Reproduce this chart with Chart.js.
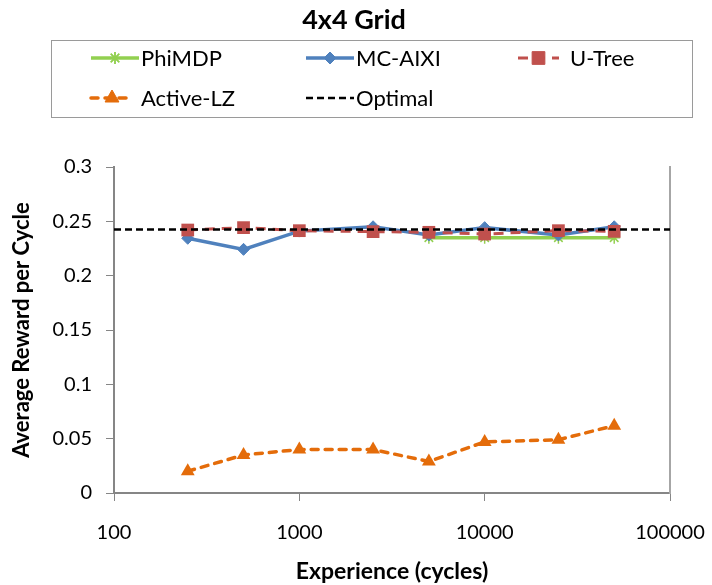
<!DOCTYPE html>
<html>
<head>
<meta charset="utf-8">
<script src="https://cdn.jsdelivr.net/npm/chart.js@4/dist/chart.umd.min.js"></script>
<style>
  html, body { margin: 0; padding: 0; background: #fff; }
  #wrap { width: 712px; height: 585px; position: relative; }
</style>
</head>
<body>
<div id="wrap"><canvas id="c" width="712" height="585"></canvas></div>
<script>
const chartTitle = '4x4 Grid';
const xTitle = 'Experience (cycles)';
const yTitle = 'Average Reward per Cycle';
const xTickValues = [100, 1000, 10000, 100000];

const experience = [250, 500, 1000, 2500, 5000, 10000, 25000, 50000];
const phiMdpExperience = [5000, 10000, 25000, 50000];
const phiMdp = [0.235, 0.235, 0.235, 0.235];
const mcAixi = [0.2344, 0.2242, 0.241, 0.245, 0.2374, 0.2442, 0.2374, 0.245];
const uTree = [0.242, 0.2442, 0.2414, 0.2405, 0.2399, 0.2383, 0.2414, 0.2408];
const activeLz = [0.020, 0.035, 0.040, 0.040, 0.029, 0.047, 0.049, 0.062];
const optimalExperience = [100, 100000];
const optimal = [0.2425, 0.2425];

const FONT = 'Lato, "Open Sans", sans-serif';
const GREEN = '#92D050', BLUE = '#4F81BD', RED = '#C0504D', ORANGE = '#E46C0A', AXIS = '#868686';

const pts = (xs, ys) => xs.map((x, i) => ({x: x, y: ys[i]}));

const datasets = [
  { label: 'PhiMDP', data: pts(phiMdpExperience, phiMdp), borderColor: GREEN, backgroundColor: GREEN,
    borderWidth: 3.5, pointStyle: 'star', pointRadius: 6, pointBorderWidth: 1.5, order: 4 },
  { label: 'MC-AIXI', data: pts(experience, mcAixi), borderColor: BLUE, backgroundColor: BLUE,
    borderWidth: 3.5, pointStyle: 'rectRot', pointRadius: 6, pointBorderWidth: 1, order: 3 },
  { label: 'U-Tree', data: pts(experience, uTree), borderColor: RED, backgroundColor: RED,
    borderWidth: 3, borderDash: [10, 7], pointStyle: 'rect', pointRadius: 9, pointBorderWidth: 0, order: 2 },
  { label: 'Active-LZ', data: pts(experience, activeLz), borderColor: ORANGE, backgroundColor: ORANGE,
    borderWidth: 3.5, borderDash: [7, 7], borderCapStyle: 'round', pointStyle: 'triangle', pointRadius: 8, pointBorderWidth: 0, order: 1 },
  { label: 'Optimal', data: pts(optimalExperience, optimal), borderColor: '#000', backgroundColor: '#000',
    borderWidth: 2.5, borderDash: [7, 4], pointRadius: 0, order: 0 }
];

const legendLayout = [
  { x: 91, y: 58, w: 48, tx: 141 },
  { x: 306, y: 58, w: 48, tx: 356 },
  { x: 518, y: 58, w: 41, tx: 570 },
  { x: 91, y: 98, w: 42, tx: 141 },
  { x: 306, y: 98, w: 48, tx: 356 }
];

const titleLegendPlugin = {
  id: 'titleLegend',
  afterDraw(chart) {
    const ctx = chart.ctx;
    ctx.save();
    ctx.fillStyle = '#000';
    ctx.font = 'bold 27px ' + FONT;
    ctx.textAlign = 'center';
    ctx.textBaseline = 'middle';
    ctx.fillText(chartTitle, 354, 20);
    // legend box
    ctx.strokeStyle = '#9a9a9a';
    ctx.lineWidth = 1;
    ctx.strokeRect(51.5, 40.5, 641, 77);
    ctx.font = '22px ' + FONT;
    ctx.textAlign = 'left';
    chart.data.datasets.forEach((ds, i) => {
      const L = legendLayout[i];
      ctx.save();
      ctx.strokeStyle = ds.borderColor;
      ctx.lineWidth = ds.borderWidth;
      ctx.setLineDash(ds.borderDash || []);
      ctx.lineCap = ds.borderCapStyle || 'butt';
      ctx.beginPath();
      ctx.moveTo(L.x, L.y);
      ctx.lineTo(L.x + L.w, L.y);
      ctx.stroke();
      ctx.restore();
      if (ds.pointRadius > 0) {
        ctx.save();
        ctx.fillStyle = ds.backgroundColor;
        ctx.strokeStyle = ds.borderColor;
        ctx.lineWidth = ds.pointBorderWidth || 1;
        Chart.helpers.drawPoint(ctx, {pointStyle: ds.pointStyle, radius: ds.pointRadius, borderWidth: ds.pointBorderWidth || 1, rotation: 0},
          L.x + L.w / 2, L.y);
        if (ds.pointBorderWidth > 0) ctx.stroke();
        ctx.restore();
      }
      ctx.fillStyle = '#000';
      ctx.fillText(ds.label, L.tx, L.y + 1);
    });
    ctx.restore();
  }
};

new Chart(document.getElementById('c'), {
  type: 'scatter',
  data: { datasets: datasets.map(d => Object.assign({showLine: true, fill: false, tension: 0}, d)) },
  plugins: [titleLegendPlugin],
  options: {
    responsive: false,
    animation: false,
    layout: { padding: { top: 167, right: 42, bottom: 0, left: 0 } },
    plugins: { legend: { display: false }, tooltip: { enabled: false }, title: { display: false } },
    scales: {
      x: {
        type: 'logarithmic', min: 100, max: 100000,
        afterBuildTicks: s => { s.ticks = xTickValues.map(v => ({value: v})); },
        afterFit: s => { s.height = 92; s.paddingLeft = 0; s.paddingRight = 0; },
        ticks: { callback: v => String(v), color: '#000', font: { family: FONT, size: 20 }, padding: 20, maxRotation: 0, autoSkip: false },
        grid: { display: true, drawOnChartArea: false, color: AXIS, tickLength: 8 },
        border: { color: AXIS, width: 2 },
        title: { display: true, text: xTitle, color: '#000', font: { family: FONT, size: 23, weight: 'bold' }, padding: { top: 0, bottom: 0 } }
      },
      y: {
        min: 0, max: 0.3,
        ticks: { stepSize: 0.05, color: '#000', font: { family: FONT, size: 20 }, padding: 14,
                 callback: v => String(Number(v.toFixed(2))) },
        afterFit: s => { s.width = 114; s.paddingTop = 0; s.paddingBottom = 0; },
        grid: { display: true, drawOnChartArea: false, color: AXIS, tickLength: 8 },
        border: { color: AXIS, width: 2 },
        title: { display: true, text: yTitle, color: '#000', font: { family: FONT, size: 22, weight: 'bold' }, padding: { top: 9, bottom: 0 } }
      },
      y2: {
        position: 'right', min: 0, max: 0.3,
        ticks: { display: false },
        grid: { display: false },
        border: { color: '#a6a6a6', width: 2 },
        afterFit: s => { s.width = 0; }
      }
    }
  }
});
</script>
</body>
</html>
